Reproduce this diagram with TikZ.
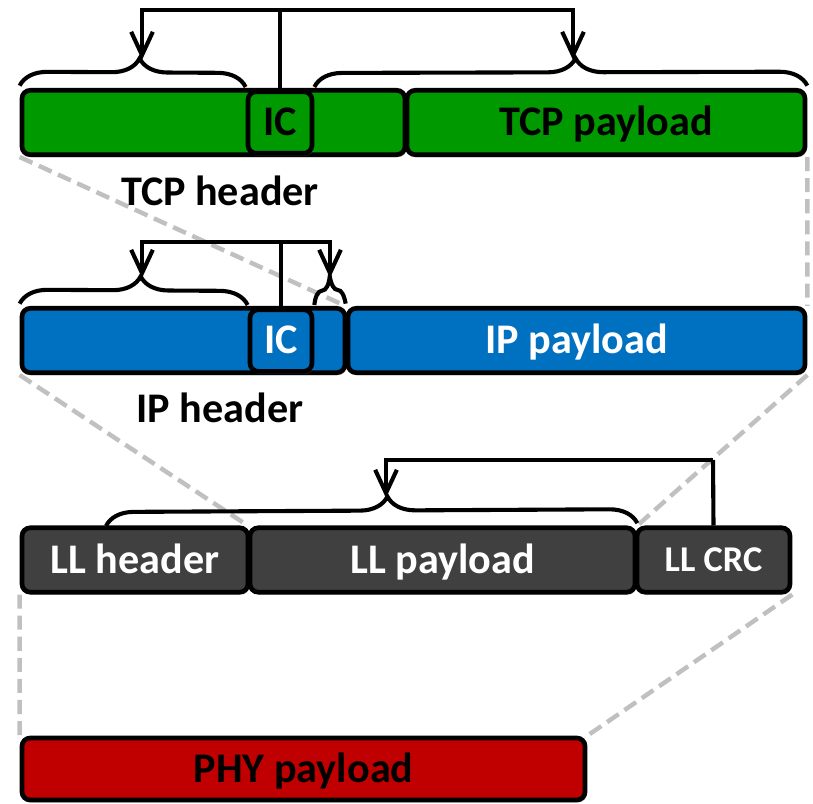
\documentclass[tikz,border=0pt]{standalone}
\usepackage{fontspec}
\setmainfont{Carlito}
\usetikzlibrary{arrows.meta,decorations.pathreplacing,backgrounds,shadows}

\definecolor{tcpgreen}{RGB}{0,153,0}
\definecolor{ipblue}{RGB}{0,112,192}
\definecolor{lldark}{RGB}{64,64,64}
\definecolor{phyred}{RGB}{192,0,0}
\definecolor{guidegray}{RGB}{192,192,192}

\begin{document}
\begin{tikzpicture}[x=0.03cm,y=-0.03cm]
        \tikzstyle{every node}=[font=\fontsize{36}{40}\selectfont\bfseries]
        \tikzstyle{field}=[draw=black,line width=4pt,rounded corners=7pt,inner sep=0pt,minimum height=1.93cm,text height=29pt,text depth=6pt,drop shadow={opacity=0.25,shadow xshift=0.05cm,shadow yshift=-0.08cm}]
        \tikzstyle{link}=[line width=3.5pt]
        \tikzstyle{arr}=[-{Straight Barb[length=0.7cm,width=0.65cm]}]
        \tikzstyle{hbrace}=[line width=3.5pt,decorate,decoration={brace,amplitude=0.84cm,aspect=0.53}]
        \tikzstyle{guide}=[guidegray,line width=3.8pt,dash pattern=on 12pt off 6pt]

        \useasboundingbox (0,0) rectangle (813,803);

        %%% TCP
        \node[field,fill=tcpgreen,minimum width=11.49cm] (tcpH) at (213.5,122.5) {};
        \node[field,fill=tcpgreen,minimum width=11.94cm] (tcpP) at (606,122.5) {TCP payload};
        \node[field,fill=tcpgreen,minimum width=1.92cm,minimum height=1.85cm] (icT) at (280,122.5) {IC};
        \node (tcpLbl) at (220,191) {TCP header};

        \draw[hbrace] ([yshift=2pt]tcpH.north west) -- ([yshift=2pt]icT.north west);
        \draw[hbrace] ([yshift=2pt]icT.north east) -- ([yshift=2pt]tcpP.north east);
        \coordinate (tcpTop) at (280,10);
        \coordinate (tcpHtip) at (142,60);
        \coordinate (tcpPtip) at (573,60);
        \draw[link] (icT.north) -- (tcpTop);
        \draw[link,arr] (tcpTop) -| (tcpHtip);
        \draw[link,arr] (tcpTop) -| (tcpPtip);

        %%% IP
        \node[field,fill=ipblue,minimum width=9.69cm] (ipH) at (183.5,340.5) {};
        \node[field,fill=ipblue,text=white,minimum width=13.71cm] (ipP) at (576.5,340.5) {IP payload};
        \node[field,fill=ipblue,text=white,minimum width=1.86cm,minimum height=1.85cm] (icI) at (281,340.5) {IC};
        \node (ipLbl) at (220,408) {IP header};

        \draw[hbrace] ([yshift=2pt]ipH.north west) -- ([yshift=2pt]icI.north west);
        \draw[hbrace] ([yshift=2pt]icI.north east) -- ([yshift=2pt]ipP.north west);
        \coordinate (ipTop) at (281,242);
        \coordinate (ipHtip) at (142,278);
        \coordinate (ipPtip) at (330,278);
        \draw[link] (icI.north) -- (ipTop);
        \draw[link,arr] (ipTop) -| (ipHtip);
        \draw[link,arr] (ipTop) -| (ipPtip);

        %%% LL
        \node[field,fill=lldark,text=white,minimum width=6.78cm] (llH) at (135,560) {LL header};
        \node[field,fill=lldark,text=white,minimum width=11.55cm] (llP) at (442.5,560) {LL payload};
        \node[field,fill=lldark,text=white,minimum width=4.59cm,text height=26pt,text depth=6pt,font=\fontsize{31}{34}\selectfont\bfseries] (llC) at (713.5,560) {LL CRC};

        \coordinate (llBr) at (106,526);
        \draw[hbrace] (llBr) -- ([yshift=2pt]llP.north east);
        \coordinate (llTop) at (713,460);
        \coordinate (llPtip) at (386,498);
        \draw[link] (llC.north) -- (llTop);
        \draw[link,arr] (llTop) -| (llPtip);

        %%% PHY
        \node[field,fill=phyred,minimum width=16.89cm,minimum height=1.86cm] (phy) at (303.5,769) {PHY payload};

        %%% mapping lines
        \begin{pgfonlayer}{background}
            \draw[guide] (tcpH.south west) -- (ipP.north west);
            \draw[guide] (tcpP.south east) -- (ipP.north east);
            \draw[guide] (ipH.south west) -- (llP.north west);
            \draw[guide] (ipP.south east) -- (llP.north east);
            \draw[guide] (llH.south west) -- (phy.north west);
            \draw[guide] (llC.south east) -- (phy.north east);
        \end{pgfonlayer}
\end{tikzpicture}
\end{document}
